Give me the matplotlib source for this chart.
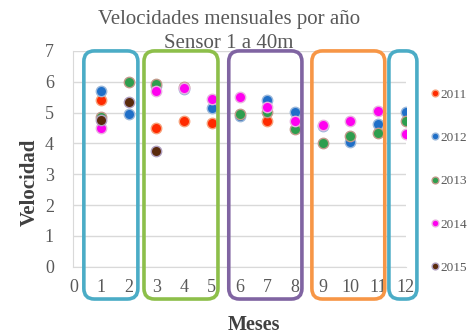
import numpy as np
import matplotlib
matplotlib.use('Agg')
import matplotlib.pyplot as plt
from matplotlib.patches import FancyBboxPatch

# datos
meses = np.arange(1, 13)
v2011 = [5.41, np.nan, 4.51, 4.73, 4.65, np.nan, 4.73, np.nan, np.nan, np.nan, np.nan, np.nan]
v2012 = [5.71, 4.95, 5.85, 5.75, 5.14, 4.90, 5.41, 5.01, 4.55, 4.06, 4.62, 5.03]
v2013 = [4.87, 6.00, 5.92, 5.84, np.nan, 4.95, 5.03, 4.46, 4.02, 4.25, 4.35, 4.71]
v2014 = [4.49, np.nan, 5.70, 5.79, 5.43, 5.52, 5.19, 4.71, 4.60, 4.71, 5.05, 4.31]
v2015 = [4.76, 5.33, 3.75, np.nan, np.nan, np.nan, np.nan, np.nan, np.nan, np.nan, np.nan, np.nan]

series = [('2011', v2011, '#FF2A00', '#F7A07A'),
          ('2012', v2012, '#1F6FC8', '#9BB8DA'),
          ('2013', v2013, '#2E9E4E', '#C09A8A'),
          ('2014', v2014, '#FF00F0', '#E8B0E0'),
          ('2015', v2015, '#5A2A0C', '#B0A0C0')]

# cajas de grupos de meses (limites en x y color)
cajas_x0 = [0.38, 2.55, 5.61, 8.61, 11.39]
cajas_x1 = [2.33, 5.22, 8.25, 11.24, 12.40]
cajas_col = ['#4BACC6', '#8DBF4A', '#8064A2', '#F79646', '#4BACC6']

serif = 'Liberation Serif'
gris = '#595959'

fig = plt.figure(figsize=(4.67, 3.35), dpi=100)
ax = fig.add_axes([0.157, 0.204, 0.712, 0.644])

for nombre, vals, col, borde in series:
    ax.plot(meses, vals, 'o', color=col, markeredgecolor=borde,
            markeredgewidth=1.0, markersize=7.5, label=nombre, zorder=3)

for x0, x1, col in zip(cajas_x0, cajas_x1, cajas_col):
    caja = FancyBboxPatch((x0, -1.05), x1 - x0, 8.05,
                          boxstyle='round,pad=0,rounding_size=0.38',
                          mutation_aspect=0.9,
                          fill=False, edgecolor=col, linewidth=2.6,
                          clip_on=False, zorder=4)
    ax.add_patch(caja)

ax.set_xlim(0, 12)
ax.set_ylim(0, 7)
ax.set_xticks(range(0, 13))
ax.set_yticks(range(0, 8))
ax.grid(axis='y', color='#D9D9D9', linewidth=1)
ax.set_axisbelow(True)
for s in ['top', 'right']:
    ax.spines[s].set_visible(False)
ax.spines['bottom'].set_color('#D9D9D9')
ax.spines['left'].set_color('#D9D9D9')
ax.tick_params(length=0, labelsize=13, labelcolor=gris)
ax.tick_params(axis='x', pad=9)
ax.tick_params(axis='y', pad=14)
for lab in ax.get_xticklabels() + ax.get_yticklabels():
    lab.set_fontfamily(serif)

ax.set_xlabel('Meses', fontfamily=serif, fontsize=14.5, fontweight='bold',
              color='#404040')
ax.xaxis.set_label_coords(0.544, -0.225)
ax.set_ylabel('Velocidad', fontfamily=serif, fontsize=15, fontweight='bold',
              color='#404040')
ax.yaxis.set_label_coords(-0.10, 0.39)

fig.text(0.49, 0.942, 'Velocidades mensuales por año', ha='center', va='center',
         fontfamily=serif, fontsize=15, color=gris)
fig.text(0.49, 0.87, 'Sensor 1 a 40m', ha='center', va='center',
         fontfamily=serif, fontsize=15, color=gris)

leg = fig.legend(loc='upper left', bbox_to_anchor=(0.896, 0.767), frameon=False,
                 markerscale=0.65, handletextpad=0.0, handlelength=0.85,
                 borderpad=0.3, labelspacing=2.35,
                 prop={'family': serif, 'size': 9.5})
for t in leg.get_texts():
    t.set_color(gris)

fig.savefig('out.png', dpi=100)
